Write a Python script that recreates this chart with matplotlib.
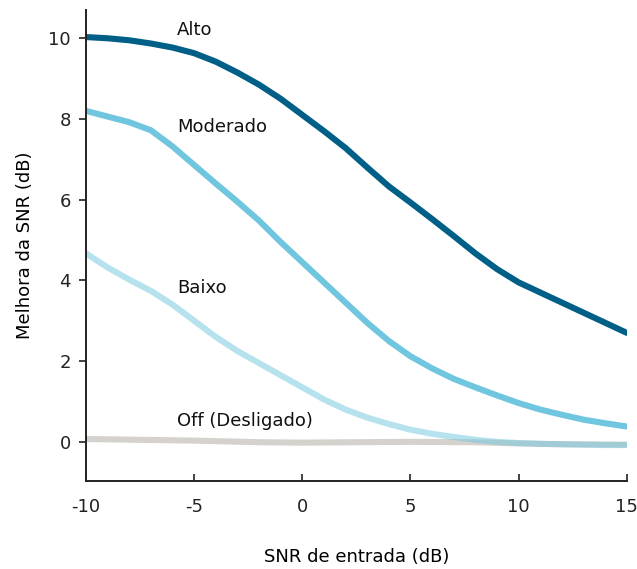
import matplotlib
matplotlib.use("Agg")
import matplotlib.pyplot as plt

plt.rcParams['font.family'] = ['DejaVu Sans']
plt.rcParams['axes.unicode_minus'] = False

# SNR de entrada (dB)
snr_in = [-10, -9, -8, -7, -6, -5, -4, -3, -2, -1, 0, 1, 2, 3, 4,
          5, 6, 7, 8, 9, 10, 11, 12, 13, 14, 15]

alto = [10.03, 10.0, 9.95, 9.87, 9.77, 9.63, 9.42, 9.15, 8.85, 8.5, 8.1,
        7.7, 7.28, 6.8, 6.33, 5.93, 5.52, 5.1, 4.67, 4.28, 3.95, 3.7,
        3.45, 3.2, 2.95, 2.7]
moderado = [8.2, 8.06, 7.92, 7.72, 7.32, 6.86, 6.4, 5.95, 5.48, 4.95, 4.45,
            3.95, 3.45, 2.95, 2.5, 2.12, 1.82, 1.56, 1.35, 1.15, 0.96, 0.8,
            0.67, 0.55, 0.46, 0.38]
baixo = [4.67, 4.32, 4.02, 3.74, 3.4, 3.0, 2.6, 2.25, 1.95, 1.65, 1.35,
         1.05, 0.8, 0.6, 0.44, 0.3, 0.2, 0.12, 0.05, 0.0, -0.03, -0.05,
         -0.06, -0.07, -0.08, -0.08]
off_x = [-10, -5, -2, 0, 5, 8, 10, 12, 15]
off = [0.07, 0.03, -0.01, -0.02, 0.0, -0.01, -0.04, -0.06, -0.07]

labels = ["Alto", "Moderado", "Baixo", "Off (Desligado)"]
label_y = [10.2, 7.8, 3.81, 0.52]

fig = plt.figure(figsize=(6.37, 5.69), dpi=100)
ax = fig.add_axes([0.135, 0.1547, 0.849, 0.8277])

lw = 4.4
ax.plot(off_x, off, color="#d5d2cd", lw=lw, solid_capstyle="round",
        solid_joinstyle="round")
ax.plot(snr_in, baixo, color="#6fc6de", alpha=0.5, lw=lw,
        solid_capstyle="round", solid_joinstyle="round")
ax.plot(snr_in, moderado, color="#6fc6de", lw=lw, solid_capstyle="round",
        solid_joinstyle="round")
ax.plot(snr_in, alto, color="#005f87", lw=lw, solid_capstyle="round",
        solid_joinstyle="round")

for txt, ty in zip(labels, label_y):
    ax.text(-5.8, ty, txt, ha="left", va="center", fontsize=13, color="#111111")

ax.set_xlim(-10, 15)
ax.set_ylim(-0.97, 10.7)
ax.set_xticks([-10, -5, 0, 5, 10, 15])
ax.set_yticks([0, 2, 4, 6, 8, 10])

for side in ["top", "right"]:
    ax.spines[side].set_visible(False)
for side in ["left", "bottom"]:
    ax.spines[side].set_linewidth(1.4)
    ax.spines[side].set_color("#222222")

ax.tick_params(axis="y", direction="out", length=5, width=1.2, labelsize=13, pad=6, colors="#222222")
ax.tick_params(axis="x", direction="in", length=5, width=1.2, labelsize=13, pad=12, colors="#222222")

ax.set_xlabel("SNR de entrada (dB)", fontsize=13, labelpad=23)
ax.set_ylabel("Melhora da SNR (dB)", fontsize=13, labelpad=10)

fig.savefig("out.png", dpi=100)
